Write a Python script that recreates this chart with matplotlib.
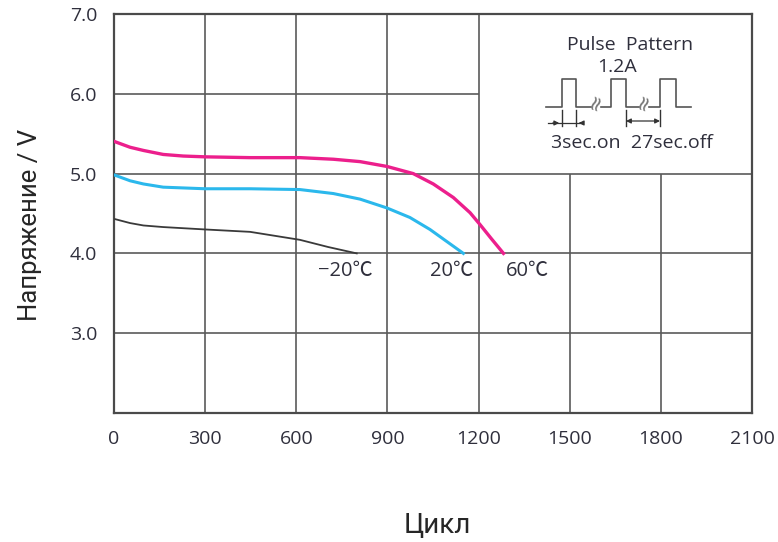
import matplotlib
matplotlib.use("Agg")
import matplotlib.pyplot as plt

plt.rcParams.update({
    "font.family": ["Open Sans", "Noto Sans CJK JP", "DejaVu Sans"],
    "font.size": 14,
})

TEXT_C = "#2f2f3c"
GRID_C = "#5a5a5a"

# ---- data ----
x_60 = [3, 53, 97, 162, 228, 300, 448, 612, 722, 810, 898, 985, 1051, 1117,
        1172, 1205, 1243, 1282]
v_60 = [5.40, 5.33, 5.29, 5.24, 5.22, 5.21, 5.20, 5.20, 5.18, 5.15, 5.09, 5.00,
        4.87, 4.70, 4.51, 4.36, 4.18, 4.00]

x_20 = [3, 53, 97, 162, 300, 448, 612, 722, 810, 898, 974, 1040, 1095, 1150]
v_20 = [4.98, 4.91, 4.87, 4.83, 4.81, 4.81, 4.80, 4.75, 4.68, 4.57, 4.45, 4.30,
        4.15, 4.00]

x_m20 = [3, 53, 97, 162, 300, 448, 612, 705, 799]
v_m20 = [4.43, 4.38, 4.35, 4.33, 4.30, 4.27, 4.17, 4.08, 4.00]

curve_labels = ["\u221220\u2103", "20\u2103", "60\u2103"]
label_x = [760, 1111, 1361]
label_y = [3.78, 3.78, 3.78]

x_ticks = [0, 300, 600, 900, 1200, 1500, 1800, 2100]
y_ticks = [3.0, 4.0, 5.0, 6.0, 7.0]

# inset pulse sketch (inset drawing units)
pulse_x = [[546, 562, 562, 576, 576, 591],
           [601, 611, 611, 626, 626, 639],
           [649, 660, 660, 676, 676, 691]]
pulse_y = [[107, 107, 79, 79, 107, 107]] * 3
break_x = [596, 644]

fig = plt.figure(figsize=(7.78, 5.42), dpi=100)
ax = fig.add_axes([114 / 778, 1 - 413 / 542, 638 / 778, 399 / 542])
ax.set_xlim(0, 2100)
ax.set_ylim(2.0, 7.0)

# grid, leaving the inset corner clear
for yv in y_ticks:
    xmax = 1200 if yv == 6.0 else 2100
    if yv < 7.0:
        ax.hlines(yv, 0, xmax, color=GRID_C, lw=1.2, zorder=1)
for xv in x_ticks[1:-1]:
    ytop = 5.0 if xv > 1200 else 7.0
    ax.vlines(xv, 2.0, ytop, color=GRID_C, lw=1.2, zorder=1)

ax.plot(x_m20, v_m20, color="#3a3a3a", lw=1.3, zorder=3)
ax.plot(x_20, v_20, color="#2bb8ec", lw=2.2, zorder=3)
ax.plot(x_60, v_60, color="#ec1f8c", lw=2.4, zorder=3)

for t, lx, ly in zip(curve_labels, label_x, label_y):
    ax.text(lx, ly, t, ha="center", va="center", fontsize=14.5, color=TEXT_C,
            family=["Open Sans", "Noto Sans CJK JP", "DejaVu Sans"])

ax.set_xticks(x_ticks)
ax.set_yticks(y_ticks)
ax.set_yticklabels([f"{v:.1f}" for v in y_ticks])
ax.tick_params(length=0, pad=12, colors=TEXT_C, labelsize=14)
for s in ax.spines.values():
    s.set_color("#4a4a4a")
    s.set_linewidth(1.6)

fig.text(30 / 778, 1 - 225 / 542, "Напряжение / V", rotation=90, ha="center",
         va="center", fontsize=18.5, family="Roboto", color="#262626")
fig.text(437 / 778, 1 - 525 / 542, "Цикл", ha="center", va="center",
         fontsize=20, family="Roboto", color="#262626")

# ---- pulse pattern inset ----
axi = fig.add_axes([530 / 778, 1 - 160 / 542, 215 / 778, 130 / 542])
axi.set_xlim(530, 745)
axi.set_ylim(160, 30)
axi.axis("off")
axi.patch.set_alpha(0)
for px, py in zip(pulse_x, pulse_y):
    axi.plot(px, py, color="#555555", lw=1.2)
for bx in break_x:
    axi.text(bx, 102, "\u2248", rotation=70, ha="center", va="center",
             fontsize=15, color="#777777", family="DejaVu Sans")
axi.text(630, 45, "Pulse  Pattern", ha="center", va="center", fontsize=14, color=TEXT_C)
axi.text(617, 67, "1.2A", ha="center", va="center", fontsize=14, color=TEXT_C)
axi.text(632, 143, "3sec.on  27sec.off", ha="center", va="center", fontsize=14, color=TEXT_C)

# dimension marks
for tx in [562, 576, 626, 660]:
    axi.plot([tx, tx], [110, 126], color="#333333", lw=1.0)
axi.plot([548, 582], [123, 123], color="#333333", lw=0.9)
axi.annotate("", xy=(562, 123), xytext=(550, 123),
             arrowprops=dict(arrowstyle="-|>", color="#333333", lw=0.9, mutation_scale=7))
axi.annotate("", xy=(576, 123), xytext=(584, 123),
             arrowprops=dict(arrowstyle="-|>", color="#333333", lw=0.9, mutation_scale=7))
axi.annotate("", xy=(626, 121), xytext=(660, 121),
             arrowprops=dict(arrowstyle="<|-|>", color="#333333", lw=0.9, mutation_scale=7,
                             shrinkA=0, shrinkB=0))

fig.savefig("out.png", dpi=100)
